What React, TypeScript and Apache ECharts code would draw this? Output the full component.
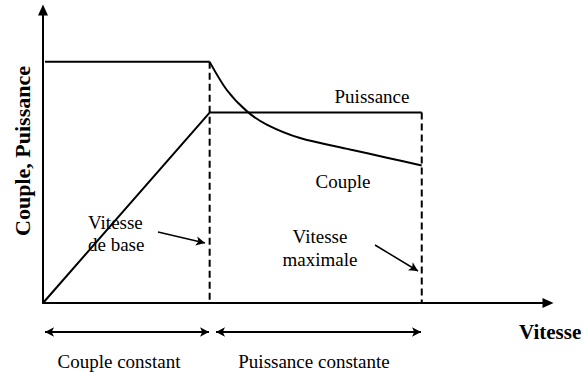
import React, { useEffect, useRef } from "react";
import * as echarts from "echarts";

// Speed axis 0..100, value axis 0..100 (arbitrary units)
const baseSpeed = 33;
const maxSpeed = 75;
const torqueConst = 82.3;
const powerConst = 65;

const torqueFlat: [number, number][] = [
  [0.4, torqueConst],
  [baseSpeed, torqueConst],
];
const torqueCurve: [number, number][] = [
  [33, 82.3],
  [36.4, 72.7],
  [40.4, 65.4],
  [44.4, 60.8],
  [50.9, 56.3],
  [60.8, 52.4],
  [68.1, 49.6],
  [75, 46.9],
];
const powerLine: [number, number][] = [
  [0, 0],
  [baseSpeed, powerConst],
  [maxSpeed, powerConst],
];
const baseDashed: [number, number][] = [
  [baseSpeed, torqueConst],
  [baseSpeed, 0],
];
const maxDashed: [number, number][] = [
  [maxSpeed, powerConst],
  [maxSpeed, 0],
];

const FONT = "Liberation Serif";

export default function App() {
  const ref = useRef<HTMLDivElement>(null);
  useEffect(() => {
    if (!ref.current) return;
    const chart = echarts.init(ref.current, null, { renderer: "svg" });
    const black = "#000";
    const txt = (x: number, y: number, text: string, extra: any = {}) => ({
      type: "text",
      x,
      y,
      style: {
        text,
        fontFamily: FONT,
        fontSize: 19,
        fontWeight: "normal",
        fill: black,
        textAlign: "center",
        textVerticalAlign: "middle",
        ...extra,
      },
    });
    chart.setOption({
      animation: false,
      backgroundColor: "#fff",
      grid: { left: 43, right: 37, top: 10, bottom: 69 },
      xAxis: {
        type: "value",
        min: 0,
        max: 100,
        axisLine: {
          show: true,
          lineStyle: { color: black, width: 2 },
          symbol: ["none", "triangle"],
          symbolSize: [10, 11],
        },
        axisTick: { show: false },
        axisLabel: { show: false },
        splitLine: { show: false },
      },
      yAxis: {
        type: "value",
        min: 0,
        max: 100,
        axisLine: {
          show: true,
          lineStyle: { color: black, width: 2 },
          symbol: ["none", "triangle"],
          symbolSize: [10, 11],
        },
        axisTick: { show: false },
        axisLabel: { show: false },
        splitLine: { show: false },
      },
      series: [
        {
          type: "line",
          data: torqueFlat,
          showSymbol: false,
          lineStyle: { color: black, width: 2 },
          markLine: {
            silent: true,
            symbol: ["arrow", "arrow"],
            symbolSize: [7, 9],
            label: { show: false },
            lineStyle: { color: black, width: 2, type: "solid" },
            data: [
              [{ x: 45, y: 332 }, { x: 209, y: 332 }],
              [{ x: 216, y: 332 }, { x: 421, y: 332 }],
            ],
          },
        },
        {
          type: "line",
          data: torqueCurve,
          smooth: 0.3,
          showSymbol: false,
          lineStyle: { color: black, width: 2 },
          markLine: {
            silent: true,
            symbol: ["none", "arrow"],
            symbolSize: [7, 9],
            label: { show: false },
            lineStyle: { color: black, width: 1.5, type: "solid" },
            data: [
              [{ x: 158, y: 232 }, { x: 205, y: 243 }],
              [{ x: 375, y: 245 }, { x: 418, y: 271 }],
            ],
          },
        },
        {
          type: "line",
          data: powerLine,
          showSymbol: false,
          lineStyle: { color: black, width: 2 },
        },
        {
          type: "line",
          data: baseDashed,
          showSymbol: false,
          lineStyle: { color: black, width: 2, type: [7, 4] },
        },
        {
          type: "line",
          data: maxDashed,
          showSymbol: false,
          lineStyle: { color: black, width: 2, type: [7, 4] },
        },
      ],
      graphic: [
        {
          type: "text",
          x: 22,
          y: 151,
          rotation: Math.PI / 2,
          style: {
            text: "Couple, Puissance",
            fontFamily: FONT,
            fontSize: 22,
            fontWeight: "bold",
            fill: black,
            textAlign: "center",
            textVerticalAlign: "middle",
          },
        },
        txt(372, 96, "Puissance"),
        txt(343, 181, "Couple"),
        txt(88, 211, "Vitesse\nde base", {
          textAlign: "left",
          textVerticalAlign: "top",
          lineHeight: 22,
        }),
        txt(320, 225, "Vitesse\nmaximale", {
          textVerticalAlign: "top",
          lineHeight: 23,
        }),
        txt(119, 361, "Couple constant"),
        txt(314, 361, "Puissance constante"),
        txt(519, 332, "Vitesse", {
          textAlign: "left",
          fontWeight: "bold",
          fontSize: 21,
        }),
      ],
    });
    return () => chart.dispose();
  }, []);
  return (
    <div
      ref={ref}
      style={{ position: "absolute", left: 0, top: 0, width: 585, height: 372 }}
    />
  );
}
